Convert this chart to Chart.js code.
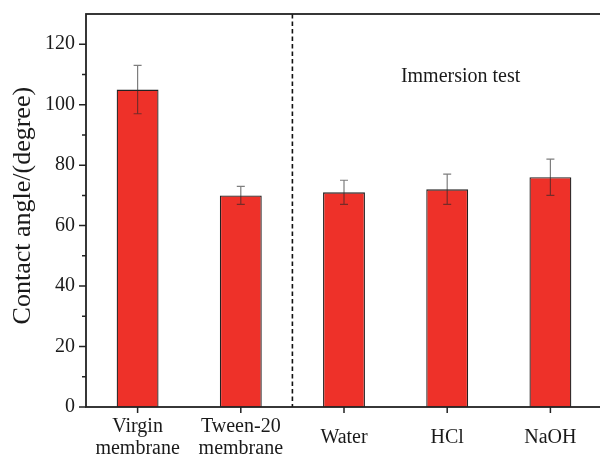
<!DOCTYPE html>
<html>
<head>
<meta charset="utf-8">
<script src="https://cdn.jsdelivr.net/npm/chart.js@4/dist/chart.umd.min.js"></script>
<style>
	html, body { margin: 0; padding: 0; background: #fff; overflow: hidden; }
	#wrap { width: 610px; height: 459px; }
</style>
</head>
<body>
<div id="wrap"><canvas id="angle" width="610" height="459"></canvas></div>
<script>
// chart data
const categories = [["Virgin", "membrane"], ["Tween-20", "membrane"], "Water", "HCl", "NaOH"];
const angles = [105, 70, 71, 72, 76];
const errors = [8, 3, 4, 5, 6];
const yTicks = [0, 20, 40, 60, 80, 100, 120];

const serif = "'Liberation Serif', 'DejaVu Serif', serif";
const ink = "#1a1a1a";

// frame, tick marks, error bars, divider, note and axis title
const decorations = {
	id: "decorations",
	afterDatasetsDraw(chart) {
		const { ctx, chartArea, scales } = chart;
		const xs = scales.x;
		const ys = scales.y;
		const meta = chart.getDatasetMeta(0);

		// error bars
		ctx.save();
		ctx.strokeStyle = "rgba(40,40,40,0.6)";
		ctx.lineWidth = 1.2;
		meta.data.forEach((bar, i) => {
			const yHi = ys.getPixelForValue(angles[i] + errors[i]);
			const yLo = ys.getPixelForValue(angles[i] - errors[i]);
			ctx.beginPath();
			ctx.moveTo(bar.x, yHi);
			ctx.lineTo(bar.x, yLo);
			ctx.moveTo(bar.x - 4, yHi);
			ctx.lineTo(bar.x + 4, yHi);
			ctx.moveTo(bar.x - 4, yLo);
			ctx.lineTo(bar.x + 4, yLo);
			ctx.stroke();
		});
		ctx.restore();

		// dashed divider between the membranes and the immersion group
		const xDiv = (xs.getPixelForValue(1) + xs.getPixelForValue(2)) / 2;
		ctx.save();
		ctx.strokeStyle = "#111";
		ctx.lineWidth = 1.6;
		ctx.setLineDash([4.5, 3]);
		ctx.beginPath();
		ctx.moveTo(xDiv, chartArea.top);
		ctx.lineTo(xDiv, chartArea.bottom);
		ctx.stroke();
		ctx.restore();

		// note
		ctx.save();
		ctx.fillStyle = ink;
		ctx.font = "20px " + serif;
		ctx.textAlign = "center";
		ctx.textBaseline = "middle";
		ctx.fillText("Immersion test", xs.getPixelForValue(3.13), ys.getPixelForValue(109.3));

		// y axis title
		ctx.translate(23, ys.getPixelForValue(66.6));
		ctx.rotate(-Math.PI / 2);
		ctx.font = "26px " + serif;
		ctx.fillText("Contact angle/(degree)", 0, 0);
		ctx.restore();

		// frame
		ctx.save();
		ctx.strokeStyle = "#222";
		ctx.lineWidth = 1.8;
		ctx.strokeRect(chartArea.left, chartArea.top, chartArea.right - chartArea.left, chartArea.bottom - chartArea.top);

		// y ticks, major every 20, minor every 10
		ctx.lineWidth = 1.5;
		ctx.beginPath();
		for (let v = 0; v <= 120; v += 10) {
			const y = ys.getPixelForValue(v);
			const len = v % 20 === 0 ? 7 : 4;
			ctx.moveTo(chartArea.left, y);
			ctx.lineTo(chartArea.left - len, y);
		}
		// x ticks under each bar
		meta.data.forEach((bar) => {
			ctx.moveTo(bar.x, chartArea.bottom);
			ctx.lineTo(bar.x, chartArea.bottom + 6);
		});
		ctx.stroke();
		ctx.restore();
	},
};

const canvas = document.getElementById("angle");
new Chart(canvas.getContext("2d"), {
	type: "bar",
	data: {
		labels: categories,
		datasets: [
			{
				label: "Contact angle",
				data: angles,
				backgroundColor: "#EE3129",
				borderColor: "#222",
				borderWidth: 1.3,
				barPercentage: 0.406,
				categoryPercentage: 1,
			},
		],
	},
	options: {
		responsive: false,
		animation: false,
		layout: { padding: { top: 14, right: 8, left: 0, bottom: 0 } },
		plugins: {
			legend: { display: false },
			tooltip: { enabled: false },
		},
		scales: {
			x: {
				grid: { display: false, drawTicks: false },
				border: { display: false },
				ticks: {
					color: ink,
					font: { family: serif, size: 20, lineHeight: 1.07 },
					padding: 20,
					crossAlign: "center",
					maxRotation: 0,
					autoSkip: false,
				},
				afterFit: (scale) => {
					scale.height = 52;
					scale.paddingLeft = 0;
					scale.paddingRight = 0;
				},
			},
			y: {
				min: 0,
				max: 130,
				grid: { display: false, drawTicks: false },
				border: { display: false },
				ticks: {
					stepSize: 10,
					color: ink,
					font: { family: serif, size: 20 },
					padding: 11,
					callback: (v) => (yTicks.includes(v) ? String(v) : ""),
				},
				afterFit: (scale) => {
					scale.width = 86;
					scale.paddingTop = 0;
					scale.paddingBottom = 0;
				},
			},
		},
	},
	plugins: [decorations],
});
</script>
</body>
</html>
